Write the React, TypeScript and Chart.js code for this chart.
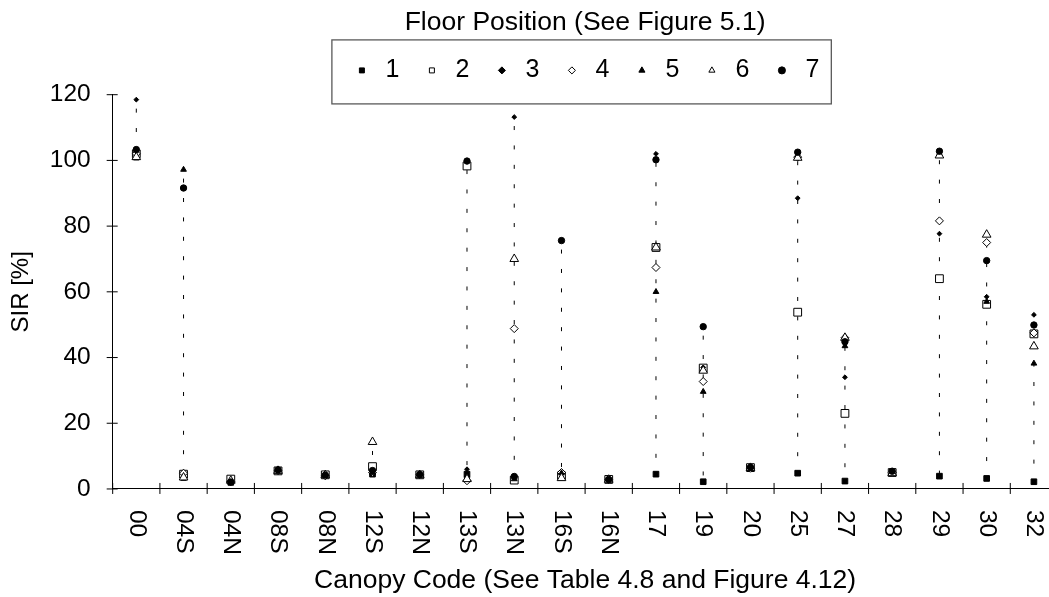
import React, { useEffect, useRef } from 'react';
import { Chart, registerables } from 'chart.js';

Chart.register(...registerables);

// Canopy codes along the x axis
const canopyCodes = ['00', '04S', '04N', '08S', '08N', '12S', '12N', '13S', '13N', '16S', '16N', '17', '19', '20', '25', '27', '28', '29', '30', '32'];

// Floor positions (legend entries)
const floorPositions = ['1', '2', '3', '4', '5', '6', '7'];

// SIR [%] per floor position, one value per canopy code
const position1 = [101, 3.5, 2.0, 5.5, 4.2, 4.5, 4.3, 4.5, 3.0, 4.5, 2.8, 4.5, 2.2, 6.3, 4.8, 2.4, 5.0, 3.9, 3.2, 2.2];
const position2 = [102, 4.5, 3.0, 5.5, 4.3, 6.8, 4.3, 98.3, 2.7, 4.0, 2.9, 73.5, 36.8, 6.5, 53.8, 23.0, 5.0, 64.0, 56.2, 47.2];
const position3 = [118.5, 4.5, 2.2, 6.0, 4.3, 5.0, 4.3, 6.0, 113.2, 5.3, 3.0, 102.0, 37.0, 6.5, 88.5, 34.0, 5.2, 77.7, 58.5, 53.0];
const position4 = [102, 4.8, 2.2, 5.5, 4.0, 5.0, 4.3, 2.5, 48.8, 5.0, 2.8, 67.4, 32.7, 6.3, 101.0, 46.0, 5.0, 81.6, 75.0, 47.5];
const position5 = [101, 97.2, 2.0, 5.5, 4.3, 4.8, 4.2, 4.0, 3.0, 4.8, 2.8, 60.0, 29.6, 6.3, 101.0, 43.5, 5.0, 102.0, 57.0, 38.2];
const position6 = [101, 3.5, 2.5, 5.5, 4.2, 14.3, 4.2, 3.0, 70.0, 3.3, 2.8, 73.5, 36.0, 6.4, 100.8, 46.0, 4.8, 101.5, 77.4, 43.4];
const position7 = [103.3, 91.6, 2.1, 5.8, 4.2, 5.6, 4.4, 99.8, 3.8, 75.6, 2.9, 100.2, 49.4, 6.6, 102.5, 44.8, 5.4, 102.8, 69.5, 49.9];

const floorSeries = [position1, position2, position3, position4, position5, position6, position7];

// y axis range
const yMin = 0;
const yMax = 120;
const yStep = 20;

const FONT = "'Liberation Sans', Arial, Helvetica, sans-serif";

// Excel-style marker per floor position
const markerStyles = [
  { pointStyle: 'rect', radius: 4.0, fill: '#000000' },
  { pointStyle: 'rect', radius: 5.5, fill: '#ffffff' },
  { pointStyle: 'rectRot', radius: 2.4, fill: '#000000' },
  { pointStyle: 'rectRot', radius: 4.0, fill: '#ffffff' },
  { pointStyle: 'triangle', radius: 3.3, fill: '#000000' },
  { pointStyle: 'triangle', radius: 5.0, fill: '#ffffff' },
  { pointStyle: 'circle', radius: 3.2, fill: '#000000' },
];

const LEGEND_BLOCK_HEIGHT = 94.7;

// Keeps the legend block at a fixed height so the boxed legend overlaps the plot top
const legendHeightPlugin = {
  id: 'legendHeight',
  beforeLayout(chart: any) {
    const legend = chart.legend;
    if (legend && !legend.__fixedHeight) {
      const fit = legend.fit.bind(legend);
      legend.fit = function () {
        fit();
        this.height = LEGEND_BLOCK_HEIGHT;
      };
      legend.__fixedHeight = true;
    }
  },
};

// Dashed high-low line joining the extreme values of each canopy code
const highLowPlugin = {
  id: 'highLow',
  beforeDatasetsDraw(chart: any) {
    const { ctx } = chart;
    const xs = chart.scales.x;
    const ys = chart.scales.y;
    ctx.save();
    ctx.strokeStyle = '#000';
    ctx.lineWidth = 1;
    ctx.setLineDash([4, 15.4]);
    ctx.lineDashOffset = -9;
    canopyCodes.forEach((_, i) => {
      const vals = floorSeries.map((s) => s[i]);
      const hi = Math.max(...vals);
      const lo = Math.min(...vals);
      const px = xs.getPixelForValue(i);
      ctx.beginPath();
      ctx.moveTo(px, ys.getPixelForValue(hi));
      ctx.lineTo(px, ys.getPixelForValue(lo));
      ctx.stroke();
    });
    ctx.restore();
  },
};

// Legend frame, crossing tick marks and downward-reading category labels
const decorPlugin = {
  id: 'decor',
  afterDraw(chart: any) {
    const { ctx, chartArea } = chart;
    const xs = chart.scales.x;
    const ys = chart.scales.y;
    ctx.save();

    // legend frame
    const boxes = chart.legend?.legendHitBoxes || [];
    if (boxes.length) {
      const left = Math.min(...boxes.map((b: any) => b.left)) - 19;
      const right = Math.max(...boxes.map((b: any) => b.left + b.width)) + 12;
      const top = boxes[0].top - 18;
      const bottom = boxes[0].top + 46;
      ctx.strokeStyle = '#595959';
      ctx.lineWidth = 1.3;
      ctx.strokeRect(left, top, right - left, bottom - top);
    }

    // tick marks crossing the axes
    ctx.strokeStyle = '#000';
    ctx.lineWidth = 1;
    ys.ticks.forEach((t: any) => {
      const py = ys.getPixelForValue(t.value);
      ctx.beginPath();
      ctx.moveTo(chartArea.left - 6, py);
      ctx.lineTo(chartArea.left + 5, py);
      ctx.stroke();
    });
    for (let i = 0; i <= canopyCodes.length; i++) {
      const px = xs.getPixelForValue(i - 0.5);
      ctx.beginPath();
      ctx.moveTo(px, chartArea.bottom - 6);
      ctx.lineTo(px, chartArea.bottom + 5);
      ctx.stroke();
    }

    // category labels, rotated to read downwards
    ctx.fillStyle = '#000';
    ctx.font = `24.5px ${FONT}`;
    ctx.textAlign = 'left';
    ctx.textBaseline = 'middle';
    canopyCodes.forEach((code, i) => {
      const px = xs.getPixelForValue(i);
      ctx.save();
      ctx.translate(px, chartArea.bottom + 21);
      ctx.rotate(Math.PI / 2);
      ctx.fillText(code, 0, 0);
      ctx.restore();
    });
    ctx.restore();
  },
};

export default function App() {
  const canvasRef = useRef<HTMLCanvasElement>(null);

  useEffect(() => {
    const canvas = canvasRef.current;
    if (!canvas) return;
    Chart.defaults.font.family = FONT;
    Chart.defaults.color = '#000';

    const datasets = floorSeries.map((values, i) => {
      const m = markerStyles[i];
      return {
        label: floorPositions[i],
        data: values,
        showLine: false,
        order: floorSeries.length - i,
        pointStyle: m.pointStyle,
        pointRadius: m.radius,
        pointHoverRadius: m.radius,
        pointBackgroundColor: m.fill,
        pointBorderColor: '#000',
        pointBorderWidth: 1,
        backgroundColor: m.fill,
        borderColor: '#000',
        borderWidth: 1,
      };
    });

    const chart = new Chart(canvas, {
      type: 'line',
      data: { labels: canopyCodes, datasets: datasets as any },
      options: {
        responsive: false,
        animation: false,
        devicePixelRatio: 1,
        events: [],
        layout: { padding: { left: 0, right: 13.3, top: 0, bottom: 0 } },
        plugins: {
          tooltip: { enabled: false },
          legend: {
            position: 'top',
            fullSize: false,
            align: 'center',
            labels: {
              usePointStyle: true,
              boxWidth: 22,
              boxHeight: 5,
              padding: 21.6,
              color: '#000',
              font: { size: 25, family: FONT },
              sort: (a: any, b: any) => a.datasetIndex - b.datasetIndex,
            },
            title: {
              display: true,
              text: 'Floor Position (See Figure 5.1)',
              color: '#000',
              font: { size: 26.5, family: FONT, lineHeight: 1 },
              padding: { top: 9.8, bottom: 0 },
            },
          },
        },
        scales: {
          x: {
            offset: true,
            grid: { display: false, drawTicks: false },
            border: { display: true, color: '#000', width: 1 },
            ticks: {
              color: 'rgba(0,0,0,0)',
              font: { size: 24.5, family: FONT },
              padding: 21,
              minRotation: 90,
              maxRotation: 90,
              autoSkip: false,
            },
            title: {
              display: true,
              text: 'Canopy Code (See Table 4.8 and Figure 4.12)',
              color: '#000',
              font: { size: 26.5, family: FONT },
              padding: { top: -10.9, bottom: 0.2 },
            },
          },
          y: {
            min: yMin,
            max: yMax,
            grid: { display: false, drawTicks: false },
            border: { display: true, color: '#000', width: 1 },
            ticks: {
              stepSize: yStep,
              color: '#000',
              font: { size: 24.5, family: FONT },
              padding: 22,
            },
            title: {
              display: true,
              text: 'SIR [%]',
              color: '#000',
              font: { size: 24, family: FONT },
              padding: { top: 7.3, bottom: -8.3 },
            },
          },
        },
      },
      plugins: [legendHeightPlugin, highLowPlugin, decorPlugin],
    });

    return () => chart.destroy();
  }, []);

  return (
    <div
      style={{
        position: 'fixed',
        left: 0,
        top: 0,
        width: 1049,
        height: 597,
        overflow: 'hidden',
        background: '#fff',
      }}
    >
      <canvas
        ref={canvasRef}
        width={1085}
        height={597}
        style={{ position: 'absolute', left: 0, top: 0, width: 1085, height: 597 }}
      />
    </div>
  );
}
